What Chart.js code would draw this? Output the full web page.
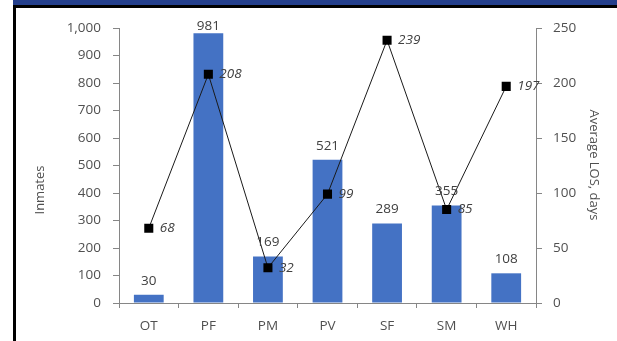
<!DOCTYPE html>
<html>
<head>
<meta charset="utf-8">
<script src="https://cdn.jsdelivr.net/npm/chart.js@4.4.1/dist/chart.umd.min.js"></script>
<style>
  body { margin: 0; background: #fff; }
  #band { position: absolute; left: 13px; top: 0; width: 604px; height: 5px; background: #243f8c; }
  #frame { position: absolute; left: 13px; top: 5px; width: 601px; height: 333px;
           border-top: 3px solid #000; border-left: 3px solid #000; }
  canvas { display: block; }
</style>
</head>
<body>
<div id="band"></div>
<div id="frame"><canvas id="losChart" width="601" height="333"></canvas></div>
<script>
// Inmates and average length of stay per facility type
const categories = ['OT', 'PF', 'PM', 'PV', 'SF', 'SM', 'WH'];
const inmates = [30, 981, 169, 521, 289, 355, 108];
const avgLos = [68, 208, 32, 99, 239, 85, 197];

const FONT = '"Open Sans", "DejaVu Sans", sans-serif';
const AXIS = '#868686';
const TEXT = '#505050';

// Value labels above bars and beside line points
const valueLabels = {
    id: 'valueLabels',
    afterDatasetsDraw(chart) {
        const ctx = chart.ctx;
        ctx.save();
        ctx.fillStyle = '#404040';
        ctx.textBaseline = 'middle';

        const bars = chart.getDatasetMeta(0);
        ctx.font = '13.5px ' + FONT;
        ctx.textAlign = 'center';
        bars.data.forEach((el, i) => {
            const y = Math.max(el.y - 14, chart.chartArea.top - 2);
            ctx.fillText(String(inmates[i]), el.x, y);
        });

        const line = chart.getDatasetMeta(1);
        ctx.font = 'italic 13.5px ' + FONT;
        ctx.textAlign = 'left';
        line.data.forEach((el, i) => {
            ctx.fillText(String(avgLos[i]), el.x + 11, el.y);
        });
        ctx.restore();
    }
};

// Axis titles
const axisTitles = {
    id: 'axisTitles',
    afterDraw(chart) {
        const ctx = chart.ctx;
        ctx.save();
        ctx.fillStyle = TEXT;
        ctx.font = '13px ' + FONT;
        ctx.textAlign = 'center';
        ctx.textBaseline = 'middle';

        ctx.translate(24, 182);
        ctx.rotate(-Math.PI / 2);
        ctx.fillText('Inmates', 0, 0);
        ctx.restore();

        ctx.save();
        ctx.fillStyle = TEXT;
        ctx.font = '13px ' + FONT;
        ctx.textAlign = 'center';
        ctx.textBaseline = 'middle';
        ctx.translate(578, 157);
        ctx.rotate(Math.PI / 2);
        ctx.fillText('Average LOS, days', 0, 0);
        ctx.restore();
    }
};

function renderChart() {
    const ctx = document.getElementById('losChart').getContext('2d');
    new Chart(ctx, {
        type: 'bar',
        data: {
            labels: categories,
            datasets: [{
                type: 'bar',
                label: 'Inmates',
                data: inmates,
                backgroundColor: '#4472c4',
                barPercentage: 0.5,
                categoryPercentage: 1,
                yAxisID: 'y',
                order: 1
            }, {
                type: 'line',
                label: 'Average LOS, days',
                data: avgLos,
                borderColor: '#1a1a1a',
                borderWidth: 1,
                pointStyle: 'rect',
                pointRadius: 6.4,
                pointBackgroundColor: '#000',
                pointBorderWidth: 0,
                yAxisID: 'y1',
                order: 0
            }]
        },
        options: {
            responsive: false,
            animation: false,
            devicePixelRatio: 1,
            layout: { padding: { top: 17, left: 0, right: 0, bottom: 0 } },
            plugins: { legend: { display: false }, tooltip: { enabled: false } },
            scales: {
                x: {
                    offset: true,
                    grid: { drawOnChartArea: false, tickLength: 5, color: AXIS, offset: true },
                    border: { color: AXIS },
                    ticks: { color: TEXT, font: { family: FONT, size: 13.5 }, padding: 10 },
                    afterFit: s => { s.height = 38; }
                },
                y: {
                    position: 'left',
                    min: 0, max: 1000,
                    ticks: {
                        stepSize: 100, color: TEXT, padding: 12,
                        font: { family: FONT, size: 13.5 },
                        callback: v => v.toLocaleString('en-US')
                    },
                    grid: { drawOnChartArea: false, tickLength: 6, color: AXIS },
                    border: { color: AXIS },
                    afterFit: s => { s.width = 103; }
                },
                y1: {
                    position: 'right',
                    min: 0, max: 250,
                    ticks: {
                        stepSize: 50, color: TEXT, padding: 11,
                        font: { family: FONT, size: 13.5 }
                    },
                    grid: { drawOnChartArea: false, tickLength: 6, color: AXIS },
                    border: { color: AXIS },
                    afterFit: s => { s.width = 81; }
                }
            }
        },
        plugins: [valueLabels, axisTitles]
    });
}

window.onload = renderChart;
</script>
</body>
</html>
